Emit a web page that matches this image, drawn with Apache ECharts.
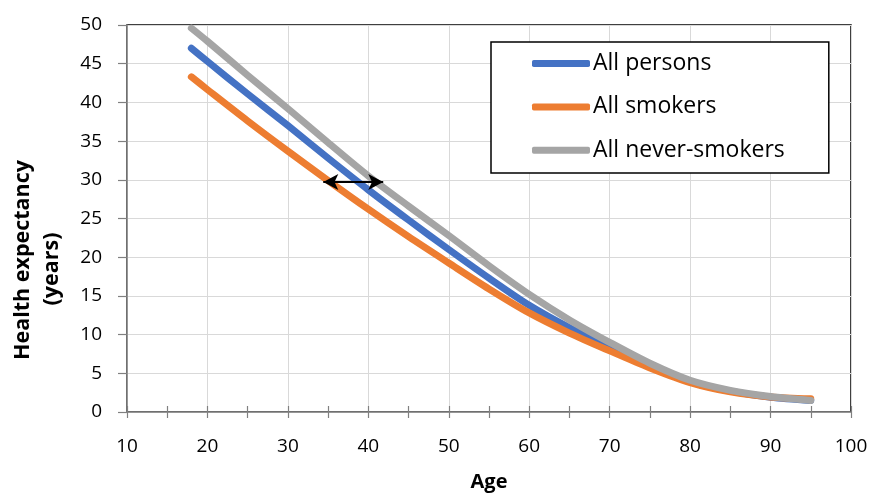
<!DOCTYPE html>
<html>
<head>
<meta charset="utf-8">
<script src="https://cdn.jsdelivr.net/npm/echarts@6/dist/echarts.min.js"></script>
<style>
html,body{margin:0;padding:0;background:#fff;}
#chart{width:873px;height:494px;}
</style>
</head>
<body>
<div id="chart"></div>
<script>
const ages = [18, 20, 25, 30, 35, 40, 45, 50, 55, 60, 65, 70, 75, 80, 85, 90, 95];
const allPersons = [47.0, 45.3, 41.1, 37.0, 32.8, 28.7, 24.8, 21.0, 17.3, 13.8, 10.9, 8.4, 5.9, 3.9, 2.7, 1.9, 1.5];
const allSmokers = [43.3, 41.65, 37.6, 33.7, 29.9, 26.2, 22.65, 19.25, 15.9, 12.8, 10.2, 7.9, 5.7, 3.8, 2.6, 1.95, 1.7];
const allNeverSmokers = [49.6, 47.9, 43.5, 39.2, 34.8, 30.5, 26.6, 22.8, 18.9, 15.2, 11.9, 9.0, 6.3, 4.1, 2.8, 2.0, 1.5];
const seriesNames = ['All persons', 'All smokers', 'All never-smokers'];
const arrowStart = [34.4, 29.7];
const arrowEnd = [41.85, 29.7];
const xTicks = [10, 20, 30, 40, 50, 60, 70, 80, 90, 100];
const yTicks = [0, 5, 10, 15, 20, 25, 30, 35, 40, 45, 50];

const FONT = 'Open Sans';
const pair = (xs, ys) => xs.map((x, i) => [x, ys[i]]);

const chart = echarts.init(document.getElementById('chart'), null, {renderer: 'canvas'});
const lineSeries = (name, data, color) => ({
  name: name,
  type: 'line',
  data: pair(ages, data),
  symbol: 'none',
  smooth: 0.3,
  lineStyle: {color: color, width: 7, cap: 'round', join: 'round'},
  itemStyle: {color: color},
  emphasis: {disabled: true},
  animation: false
});

chart.setOption({
  animation: false,
  textStyle: {fontFamily: FONT},
  grid: {left: 127, right: 22, top: 25, bottom: 82, containLabel: false, outerBoundsMode: 'none',
    show: true, borderColor: '#000', borderWidth: 1.5, backgroundColor: 'transparent'},
  legend: {
    data: seriesNames,
    orient: 'vertical',
    left: 491,
    top: 42,
    icon: 'roundRect',
    itemWidth: 58,
    itemHeight: 7,
    itemGap: 19.3,
    padding: [9.6, 44, 10.7, 41],
    borderColor: '#000',
    borderWidth: 1.5,
    backgroundColor: '#fff',
    textStyle: {fontFamily: FONT, fontSize: 23, color: '#000', lineHeight: 24, padding: [0, 0, 0, -2]}
  },
  xAxis: [{
    type: 'value',
    min: 10, max: 100, interval: 10,
    name: 'Age',
    nameLocation: 'middle',
    nameGap: 60,
    nameTextStyle: {fontFamily: FONT, fontSize: 20, fontWeight: 'bold', color: '#000'},
    axisLine: {show: true, lineStyle: {color: '#808080', width: 1.5}},
    axisTick: {show: true, length: 6, lineStyle: {color: '#808080', width: 1.2}},
    minorTick: {show: true, splitNumber: 2, length: 6, lineStyle: {color: '#808080', width: 1.2}},
    axisLabel: {fontFamily: FONT, fontSize: 19, color: '#000', margin: 25,
      formatter: v => xTicks.includes(v) ? String(v) : ''},
    splitLine: {show: true, lineStyle: {color: '#d9d9d9', width: 1}},
    minorSplitLine: {show: false}
  }, {
    type: 'value',
    position: 'bottom',
    min: 10, max: 100, interval: 10,
    axisLine: {show: false},
    axisTick: {show: true, inside: true, length: 6, lineStyle: {color: '#808080', width: 1.2}},
    minorTick: {show: true, splitNumber: 2, length: 6, lineStyle: {color: '#808080', width: 1.2}},
    axisLabel: {show: false},
    splitLine: {show: false}
  }],
  yAxis: {
    type: 'value',
    min: 0, max: 50, interval: 5,
    axisLine: {show: true, lineStyle: {color: '#808080', width: 1.5}},
    axisTick: {show: true, length: 9, lineStyle: {color: '#808080', width: 1.2}},
    axisLabel: {fontFamily: FONT, fontSize: 19, color: '#000', margin: 25,
      formatter: v => yTicks.includes(v) ? String(v) : ''},
    splitLine: {show: true, lineStyle: {color: '#d9d9d9', width: 1}}
  },
  graphic: [
    {type: 'text', x: 23, y: 260, rotation: Math.PI / 2, silent: true,
      style: {text: 'Health expectancy', fontFamily: FONT, fontSize: 21.5, fontWeight: 'bold', fill: '#000', align: 'center', verticalAlign: 'middle'}},
    {type: 'text', x: 52, y: 269, rotation: Math.PI / 2, silent: true,
      style: {text: '(years)', fontFamily: FONT, fontSize: 21.5, fontWeight: 'bold', fill: '#000', align: 'center', verticalAlign: 'middle'}}
  ],
  series: [
    lineSeries(seriesNames[0], allPersons, '#4472C4'),
    lineSeries(seriesNames[1], allSmokers, '#ED7D31'),
    lineSeries(seriesNames[2], allNeverSmokers, '#A5A5A5'),
    {
      type: 'line',
      data: [],
      symbol: 'none',
      silent: true,
      z: 5,
      markLine: {
        silent: true,
        symbol: ['arrow', 'arrow'],
        symbolSize: [12, 15],
        lineStyle: {color: '#000', width: 2, type: 'solid'},
        label: {show: false},
        emphasis: {disabled: true},
        data: [[{coord: arrowStart}, {coord: arrowEnd}]]
      }
    }
  ]
});
</script>
</body>
</html>
